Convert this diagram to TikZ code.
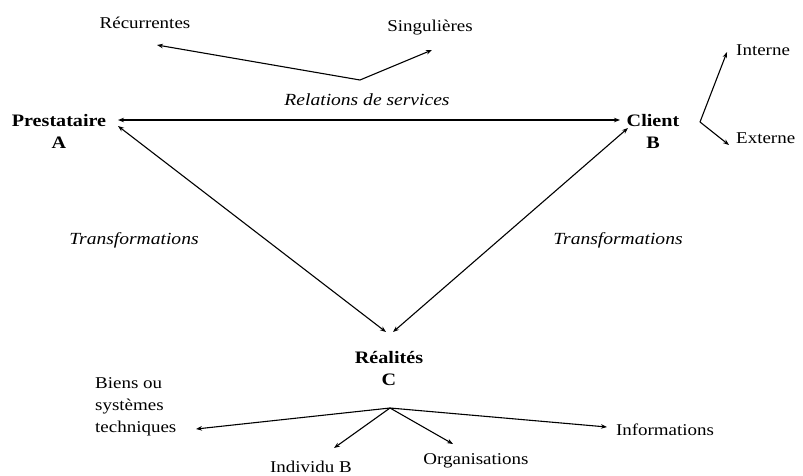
\documentclass[tikz,border=0pt]{standalone}
\usepackage{fontspec}
\setmainfont[FakeStretch=1.15]{Liberation Serif}
\usetikzlibrary{arrows.meta}
\begin{document}
\begin{tikzpicture}[x=1pt,y=-1pt,
  lbl/.style={inner sep=0pt,font=\fontsize{16.5}{21}\selectfont},
  blbl/.style={lbl,font=\fontsize{17.5}{22}\selectfont\bfseries,align=center},
  ilbl/.style={lbl,font=\fontsize{17}{21}\selectfont\itshape},
  con/.style={line width=1.1pt,-{Stealth[length=6pt,width=4.5pt]}},
  dcon/.style={line width=1.1pt,{Stealth[length=6pt,width=4.5pt]}-{Stealth[length=6pt,width=4.5pt]}}]
\useasboundingbox (0,0) rectangle (803,475);
% top
\node[lbl] (rec) at (145,23) {Récurrentes};
\node[lbl] (sing) at (430,28) {Singulières};
\coordinate (relj) at (360,80);
\coordinate (recT) at (157,45);
\coordinate (singT) at (432,50);
\draw[con] (relj) -- (recT);
\draw[con] (relj) -- (singT);
\node[ilbl] (rel) at (367,100) {Relations de services};
% main nodes
\node[blbl] (A) at (59,131) {Prestataire\\A};
\node[blbl] (B) at (653,131) {Client\\B};
\node[blbl] (C) at (389,368) {Réalités\\C};
\coordinate (aE) at (118,120);
\coordinate (bW) at (620,120);
\coordinate (aSE) at (118,126);
\coordinate (bSW) at (628,128);
\coordinate (cL) at (386,332);
\coordinate (cR) at (393,332);
\draw[dcon] (aE) -- (bW);
\draw[dcon] (aSE) -- (cL);
\draw[dcon] (bSW) -- (cR);
\node[ilbl] (tl) at (134,240) {Transformations};
\node[ilbl] (tr) at (618,240) {Transformations};
% client branches
\coordinate (bj) at (700,122);
\coordinate (intT) at (727,52);
\coordinate (extT) at (729,145);
\draw[con] (bj) -- (intT);
\draw[con] (bj) -- (extT);
\node[lbl,anchor=west] (int) at (736,50) {Interne};
\node[lbl,anchor=west] (ext) at (736,138) {Externe};
% realites branches
\coordinate (cj) at (390,408);
\node[lbl,anchor=west,align=left,font=\fontsize{16.5}{22}\selectfont] (biens) at (95,407) {Biens ou\\systèmes\\techniques};
\node[lbl] (ind) at (311,467) {Individu B};
\node[lbl] (org) at (476,461) {Organisations};
\node[lbl] (info) at (665,430) {Informations};
\coordinate (biensT) at (196,429);
\coordinate (indT) at (334,448);
\coordinate (orgT) at (453,444);
\coordinate (infoT) at (607,427);
\draw[con] (cj) -- (biensT);
\draw[con] (cj) -- (indT);
\draw[con] (cj) -- (orgT);
\draw[con] (cj) -- (infoT);
\end{tikzpicture}
\end{document}
